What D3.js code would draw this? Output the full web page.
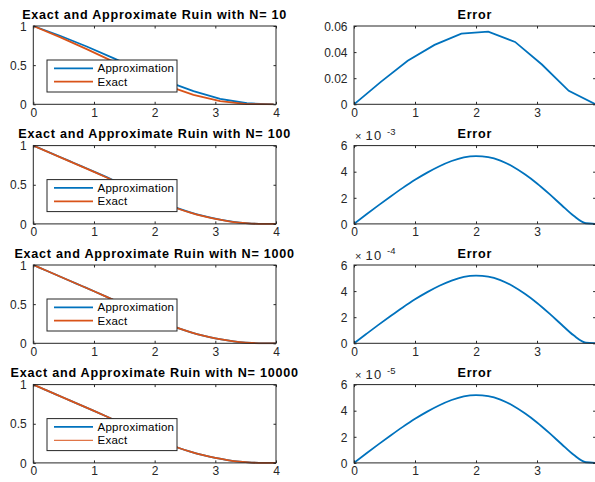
<!DOCTYPE html>
<html>
<head>
<meta charset="utf-8">
<script src="https://cdn.jsdelivr.net/npm/d3@7"></script>
<style>
  html, body { margin: 0; padding: 0; background: #fff; }
  svg { display: block; font-family: "Liberation Sans", Arial, Helvetica, sans-serif; }
</style>
</head>
<body>
<svg id="fig" width="595" height="482"></svg>
<script>
// Ruin probability curves for four values of N (left) and their error (right)

const Ns = [10, 100, 1000, 10000];

// N = 10: coarse grid, ten points
const x10 = [0, 0.44, 0.88, 1.32, 1.76, 2.20, 2.64, 3.08, 3.52, 3.96];
const exact10 = [1, 0.858, 0.705, 0.545, 0.383, 0.238, 0.120, 0.040, 0.003, 0];
const approx10 = [1, 0.8752, 0.7383, 0.5905, 0.4372, 0.2937, 0.1678, 0.0705, 0.0133, 0];
const err10 = [0, 0.0172, 0.0333, 0.0455, 0.0542, 0.0557, 0.0478, 0.0305, 0.0103, 0];

// Finer grid used for N = 100, 1000, 10000
const xFine = [0, 0.2, 0.4, 0.6, 0.8, 1.0, 1.2, 1.4, 1.6, 1.8, 2.0, 2.2, 2.4, 2.6, 2.8, 3.0, 3.2, 3.4, 3.6, 3.8, 4.0];
const exactFine = [1, 0.933, 0.866, 0.799, 0.732, 0.665, 0.596, 0.525, 0.453, 0.381, 0.312, 0.248, 0.190, 0.140, 0.098, 0.063, 0.036, 0.016, 0.004, 0.000, 0];

const approx100 = [1, 0.9337, 0.8674, 0.8011, 0.7348, 0.6684, 0.5999, 0.5294, 0.4578, 0.3861, 0.3172, 0.2531, 0.1949, 0.1444, 0.1018, 0.0661, 0.0383, 0.0175, 0.0046, 0.0001, 0];
const err100 = [0, 0.00072, 0.00142, 0.00210, 0.00276, 0.00338, 0.00393, 0.00442, 0.00482, 0.00510, 0.00520, 0.00512, 0.00485, 0.00440, 0.00380, 0.00310, 0.00230, 0.00145, 0.00062, 0.00005, 0];

const approx1000 = [1, 0.93307, 0.86614, 0.79921, 0.73228, 0.66534, 0.59639, 0.52544, 0.45348, 0.38151, 0.31252, 0.24851, 0.19048, 0.14044, 0.09838, 0.06331, 0.03623, 0.01614, 0.00406, 0.00001, 0];
const err1000 = [0, 0.000071, 0.000141, 0.000209, 0.000275, 0.000337, 0.000392, 0.000441, 0.000481, 0.000509, 0.000519, 0.000511, 0.000484, 0.000439, 0.000379, 0.000309, 0.000229, 0.000144, 0.000061, 0.000005, 0];

const approx10000 = [1, 0.93301, 0.86601, 0.79902, 0.73203, 0.66503, 0.59604, 0.52504, 0.45305, 0.38105, 0.31205, 0.24805, 0.19005, 0.14004, 0.09804, 0.06303, 0.03602, 0.01601, 0.00401, 0, 0];
const err10000 = [0, 0.0000072, 0.0000142, 0.0000210, 0.0000276, 0.0000338, 0.0000393, 0.0000442, 0.0000482, 0.0000510, 0.0000520, 0.0000512, 0.0000485, 0.0000440, 0.0000380, 0.0000310, 0.0000230, 0.0000145, 0.0000062, 0.0000005, 0];

// Axis ticks
const ruinXTicks = [0, 1, 2, 3, 4];
const ruinYTicks = [0, 0.5, 1];
const errXTicks = [0, 1, 2, 3];
const errYMax = [0.06, 0.006, 0.0006, 0.00006];
const errYTicks = [[0, 0.02, 0.04, 0.06], [0, 0.002, 0.004, 0.006], [0, 0.0002, 0.0004, 0.0006], [0, 0.00002, 0.00004, 0.00006]];
const errExponent = [null, -3, -4, -5];

const rows = [
  { x: x10, exact: exact10, approx: approx10, err: err10, smooth: false },
  { x: xFine, exact: exactFine, approx: approx100, err: err100, smooth: true },
  { x: xFine, exact: exactFine, approx: approx1000, err: err1000, smooth: true },
  { x: xFine, exact: exactFine, approx: approx10000, err: err10000, smooth: true }
];

const BLUE = "#0072BD", ORANGE = "#D95319", AXIS = "#262626";
const svg = d3.select("#fig");

const leftX0 = 33.3, leftX1 = 276;
const rightX0 = 354, rightX1 = 595.6;
const rowTops = [26, 145.6, 265, 384.6];
const panelH = 78.3;
const tickLen = 2.5;
const LW = 1.8;

function frame(g, x, y, tickX, tickY, fmtX, fmtY) {
  const [x0, x1] = x.range();
  const [yb, yt] = y.range();
  g.append("rect").attr("x", x0).attr("y", yt).attr("width", x1 - x0).attr("height", yb - yt)
    .attr("fill", "none").attr("stroke", AXIS).attr("stroke-width", 1);
  const inner = [
    d3.axisBottom(x).tickValues(tickX).tickSize(-tickLen).tickFormat(fmtX),
    d3.axisTop(x).tickValues(tickX).tickSize(-tickLen).tickFormat(""),
    d3.axisLeft(y).tickValues(tickY).tickSize(-tickLen).tickFormat(fmtY),
    d3.axisRight(y).tickValues(tickY).tickSize(-tickLen).tickFormat("")
  ];
  const pos = [[0, yb], [0, yt], [x0, 0], [x1, 0]];
  inner.forEach((ax, i) => {
    const a = g.append("g").attr("transform", `translate(${pos[i][0]},${pos[i][1]})`).call(ax);
    a.select(".domain").remove();
    a.selectAll(".tick line").attr("stroke", AXIS).attr("stroke-width", 1);
    a.selectAll(".tick text").attr("fill", AXIS).attr("font-size", "12px")
      .attr("font-family", "'Liberation Sans', Arial, sans-serif");
    if (i === 0) a.selectAll(".tick text").attr("y", 0).attr("dy", "12.3px");
    if (i === 2) a.selectAll(".tick text").attr("x", -6.5).attr("dy", "0.35em");
  });
}

function title(g, cx, top, text) {
  g.append("text").attr("x", cx).attr("y", top - 7.5).attr("text-anchor", "middle")
    .attr("font-size", "12.6px").attr("font-weight", "bold").attr("letter-spacing", "0.75px")
    .attr("fill", "#000").text(text);
}

rows.forEach((r, i) => {
  const top = rowTops[i], bottom = top + panelH;

  // ---- left: exact vs approximate ruin probability ----
  const gl = svg.append("g");
  const xl = d3.scaleLinear().domain([0, 4]).range([leftX0, leftX1]);
  const yl = d3.scaleLinear().domain([0, 1]).range([bottom, top]);
  const clipL = "clipL" + i;
  gl.append("clipPath").attr("id", clipL).append("rect")
    .attr("x", leftX0).attr("y", top - 1).attr("width", leftX1 - leftX0).attr("height", panelH + 2);

  const lineL = d3.line().x(d => xl(d[0])).y(d => yl(d[1]))
    .curve(r.smooth ? d3.curveMonotoneX : d3.curveLinear);
  const plot = gl.append("g").attr("clip-path", `url(#${clipL})`);
  plot.append("path").datum(r.x.map((v, k) => [v, r.approx[k]])).attr("d", lineL)
    .attr("fill", "none").attr("stroke", BLUE).attr("stroke-width", LW);
  plot.append("path").datum(r.x.map((v, k) => [v, r.exact[k]])).attr("d", lineL)
    .attr("fill", "none").attr("stroke", ORANGE).attr("stroke-width", LW);

  frame(gl, xl, yl, ruinXTicks, ruinYTicks, d3.format("d"), d => d === 0.5 ? "0.5" : d3.format("d")(d));
  title(gl, (leftX0 + leftX1) / 2, top, "Exact and Approximate Ruin with N= " + Ns[i]);

  // legend
  const lg = gl.append("g").attr("transform", `translate(${leftX0 + 13.7},${top + 34})`);
  lg.append("rect").attr("width", 130).attr("height", 32).attr("fill", "#fff")
    .attr("stroke", AXIS).attr("stroke-width", 1);
  [["Approximation", BLUE, 8.3, LW], ["Exact", ORANGE, 21.7, i === 3 ? 1 : LW]].forEach(([lab, col, yy, w]) => {
    lg.append("line").attr("x1", 7).attr("x2", 46).attr("y1", yy).attr("y2", yy)
      .attr("stroke", col).attr("stroke-width", w);
    lg.append("text").attr("x", 50.5).attr("y", yy + 3.8).attr("font-size", "11.5px")
      .attr("letter-spacing", "0.25px").attr("fill", "#000").text(lab);
  });

  // ---- right: error ----
  const gr = svg.append("g");
  const xr = d3.scaleLinear().domain([0, 3.96]).range([rightX0, rightX1]);
  const yr = d3.scaleLinear().domain([0, errYMax[i]]).range([bottom, top]);
  const clipR = "clipR" + i;
  gr.append("clipPath").attr("id", clipR).append("rect")
    .attr("x", rightX0).attr("y", top - 1).attr("width", rightX1 - rightX0).attr("height", panelH + 2);
  const lineR = d3.line().x(d => xr(d[0])).y(d => yr(d[1]))
    .curve(r.smooth ? d3.curveMonotoneX : d3.curveLinear);
  gr.append("g").attr("clip-path", `url(#${clipR})`).append("path")
    .datum(r.x.map((v, k) => [v, r.err[k]])).attr("d", lineR)
    .attr("fill", "none").attr("stroke", BLUE).attr("stroke-width", LW);

  const exp = errExponent[i];
  const fmtY = exp === null ? (d => d === 0 ? "0" : d3.format(".2f")(d))
                            : (d => d3.format("d")(Math.round(d / Math.pow(10, exp))));
  frame(gr, xr, yr, errXTicks, errYTicks[i], d3.format("d"), fmtY);
  title(gr, (rightX0 + rightX1) / 2, top, "Error");

  // axis exponent, e.g. ×10^-3
  if (exp !== null) {
    const base = top - 5.3;
    gr.append("text").attr("x", rightX0 + 1).attr("y", base)
      .attr("font-size", "11px").attr("fill", AXIS).text("\u00d7");
    gr.append("text").attr("x", rightX0 + 11.5).attr("y", base)
      .attr("font-size", "13px").attr("letter-spacing", "1.2px").attr("fill", AXIS).text("10");
    gr.append("text").attr("x", rightX0 + 33).attr("y", base - 5.5)
      .attr("font-size", "9.5px").attr("fill", AXIS).text(String(exp));
  }
});
</script>
</body>
</html>
